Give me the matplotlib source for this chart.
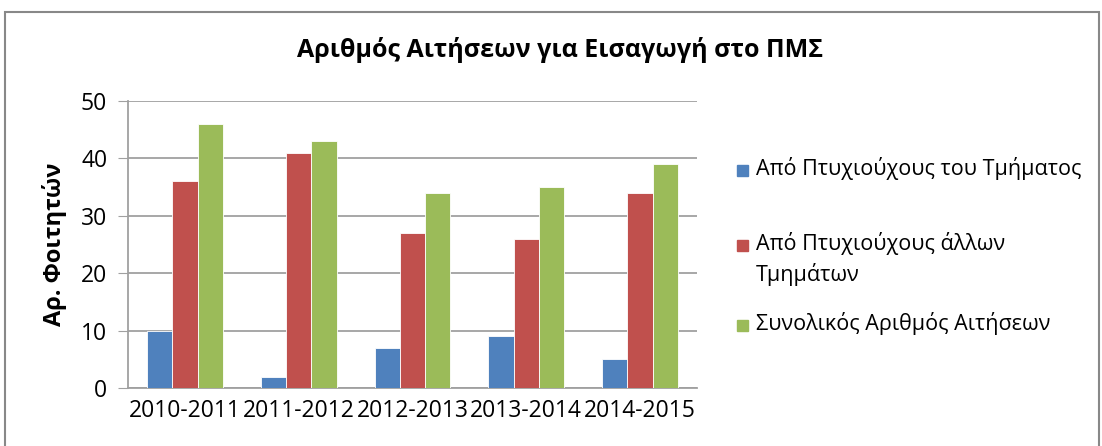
import numpy as np
import matplotlib
matplotlib.use("Agg")
import matplotlib.pyplot as plt
from matplotlib.patches import Rectangle

# -----------------------------
# DATA
# -----------------------------
years = ["2010-2011", "2011-2012", "2012-2013", "2013-2014", "2014-2015"]
series_names = ["Από Πτυχιούχους του Τμήματος",
                "Από Πτυχιούχους άλλων\nΤμημάτων",
                "Συνολικός Αριθμός Αιτήσεων"]
same_dept = [10, 2, 7, 9, 5]
other_dept = [36, 41, 27, 26, 34]
total = [46, 43, 34, 35, 39]
yticks = [0, 10, 20, 30, 40, 50]

colors = ["#4F81BD", "#C0504D", "#9BBB59"]
title = "Αριθμός Αιτήσεων για Εισαγωγή στο ΠΜΣ"
ylabel = "Αρ. Φοιτητών"

plt.rcParams['font.family'] = ['Open Sans', 'DejaVu Sans']

# -----------------------------
# PLOT
# -----------------------------
W, H = 1102, 446
fig = plt.figure(figsize=(W / 100, H / 100), dpi=100)
ax = fig.add_axes([128 / W, 1 - 388 / H, (697 - 128) / W, (388 - 101) / H])

x = np.arange(len(years))
w = 1 / 4.5
for i, vals in enumerate([same_dept, other_dept, total]):
    ax.bar(x + (i - 1) * w, vals, width=w, color=colors[i],
           edgecolor="white", linewidth=0.6, zorder=3)

ax.set_xlim(-0.5, len(years) - 0.5)
ax.set_ylim(0, 50)
ax.set_yticks(yticks)
ax.set_xticks(x)
ax.set_xticklabels(years, fontsize=16.5)
ax.tick_params(axis="y", labelsize=16.5, length=7, color="#a0a0a0", pad=8)
ax.tick_params(axis="x", length=0, pad=8)
ax.yaxis.grid(True, color="#a0a0a0", linewidth=1.3, zorder=0)
for s in ["top", "right"]:
    ax.spines[s].set_visible(False)
ax.spines["left"].set_color("#a0a0a0")
ax.spines["bottom"].set_color("#a0a0a0")
ax.spines["left"].set_linewidth(1.3)
ax.spines["bottom"].set_linewidth(1.3)
ax.set_ylabel(ylabel, fontsize=17, fontweight="bold", labelpad=10)

fig.text(560 / W, 1 - 50 / H, title, fontsize=18, fontweight="bold",
         ha="center", va="center")

# legend drawn by hand, Excel-style
leg_y = [170, 245, 325]
for name, c, yy in zip(series_names, colors, leg_y):
    fig.patches.append(Rectangle((737 / W, 1 - (yy + 6) / H), 11 / W, 11 / H,
                                 transform=fig.transFigure, color=c))
    fig.text(756 / W, 1 - (yy - 13) / H, name, fontsize=15.5, ha="left", va="top",
             linespacing=1.45)

# outer chart frame
fig.patches.append(Rectangle((5 / W, -0.05), 1094 / W, 1 - 12 / H + 0.05,
                             transform=fig.transFigure, fill=False,
                             edgecolor="#888888", linewidth=1.5))

fig.savefig("out.png", dpi=100)
